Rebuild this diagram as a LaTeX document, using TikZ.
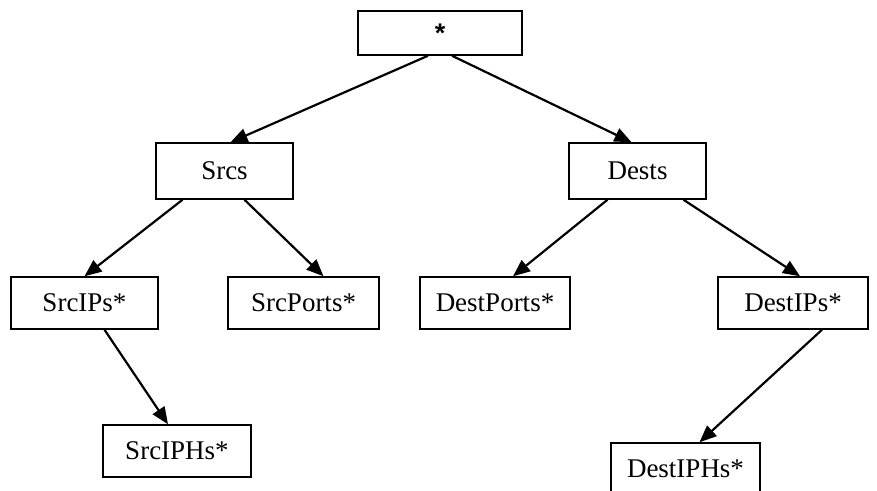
\documentclass[tikz,border=0pt]{standalone}
\usepackage{fontspec}
\setmainfont{Liberation Serif}
\newfontfamily\arialfont{Liberation Sans}
\usetikzlibrary{arrows.meta}

\begin{document}
\begin{tikzpicture}[x=1pt,y=-1pt,>={Triangle[length=17pt,width=14pt]},
  box/.style={draw,line width=1.5pt,inner sep=0pt,minimum height=52pt,
    font=\fontsize{27}{30}\selectfont},
  link/.style={->,line width=2.2pt}]
 \useasboundingbox (0,0) rectangle (877,490);
 \node[box,minimum width=164pt,minimum height=44pt] (star) at (440,33) {\raisebox{-5pt}{\arialfont\bfseries *}};
 \node[box,minimum width=137pt,minimum height=56pt] (srcs) at (224.5,171) {Srcs};
 \node[box,minimum width=137pt,minimum height=56pt] (dests) at (637.5,171) {Dests};
 \node[box,minimum width=147pt] (srcips) at (84.5,303) {SrcIPs*};
 \node[box,minimum width=151pt] (srcports) at (303.5,303) {SrcPorts*};
 \node[box,minimum width=150pt] (destports) at (495,303) {DestPorts*};
 \node[box,minimum width=150pt] (destips) at (793,303) {DestIPs*};
 \node[box,minimum width=148pt] (srciphs) at (177,451) {SrcIPHs*};
 \node[box,minimum width=149pt] (destiphs) at (685.5,469) {DestIPHs*};
 \draw[link] ([xshift=-12pt]star.south) -- ([xshift=6pt]srcs.north);
 \draw[link] ([xshift=12pt]star.south) -- ([xshift=-6pt]dests.north);
 \draw[link] ([xshift=-42pt]srcs.south) -- (srcips.north);
 \draw[link] ([xshift=20pt]srcs.south) -- ([xshift=20pt]srcports.north);
 \draw[link] ([xshift=-30pt]dests.south) -- ([xshift=18pt]destports.north);
 \draw[link] ([xshift=46pt]dests.south) -- ([xshift=7pt]destips.north);
 \draw[link] ([xshift=20pt]srcips.south) -- ([xshift=-9pt]srciphs.north);
 \draw[link] ([xshift=29pt]destips.south) -- ([xshift=14pt]destiphs.north);
\end{tikzpicture}
\end{document}
